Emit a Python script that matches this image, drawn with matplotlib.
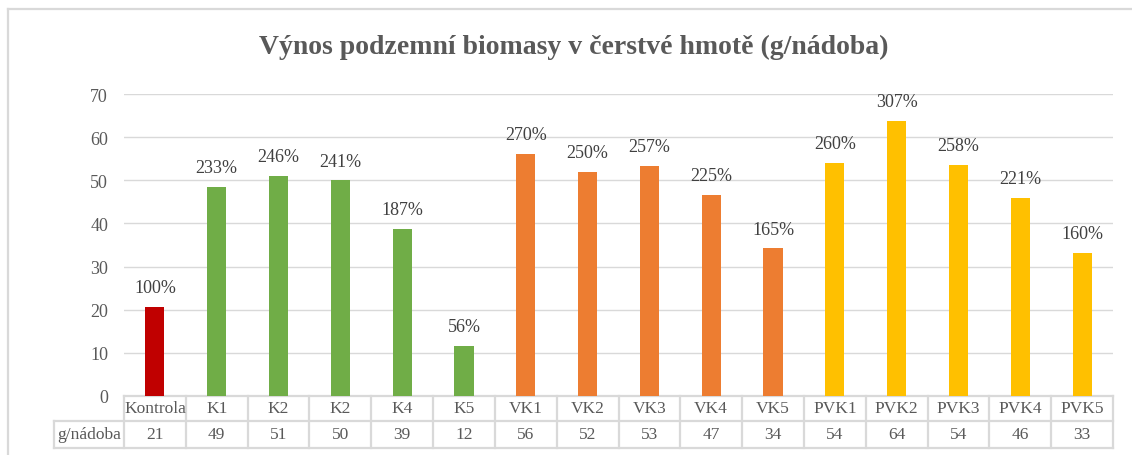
import matplotlib
matplotlib.use("Agg")
import matplotlib.pyplot as plt
from matplotlib.lines import Line2D

categories = ["Kontrola", "K1", "K2", "K2", "K4", "K5", "VK1", "VK2", "VK3", "VK4", "VK5",
              "PVK1", "PVK2", "PVK3", "PVK4", "PVK5"]
values = [20.7, 48.5, 51.0, 50.0, 38.8, 11.6, 56.1, 52.0, 53.4, 46.7, 34.2,
          54.1, 63.8, 53.6, 45.9, 33.2]
table_values = ["21", "49", "51", "50", "39", "12", "56", "52", "53", "47", "34",
                "54", "64", "54", "46", "33"]
percent_labels = ["100%", "233%", "246%", "241%", "187%", "56%", "270%", "250%", "257%",
                  "225%", "165%", "260%", "307%", "258%", "221%", "160%"]
row_label = "g/nádoba"
title = "Výnos podzemní biomasy v čerstvé hmotě (g/nádoba)"
yticks = [0, 10, 20, 30, 40, 50, 60, 70]

colors = ["#C00000"] + ["#70AD47"] * 5 + ["#ED7D31"] * 5 + ["#FFC000"] * 5

plt.rcParams['font.family'] = ['Liberation Serif', 'DejaVu Serif']

W, H = 1132, 456
fig = plt.figure(figsize=(W / 100, H / 100), dpi=100)

left_px, right_px, top_px, bottom_px = 124, 1113, 95, 397
ax = fig.add_axes([left_px / W, (H - bottom_px) / H,
                   (right_px - left_px) / W, (bottom_px - top_px) / H])

x = list(range(len(categories)))
ax.bar(x, values, width=0.31, color=colors, zorder=3)
ax.set_xlim(-0.5, len(categories) - 0.5)
ax.set_ylim(0, 70)
ax.set_yticks(yticks)
ax.set_yticklabels([str(t) for t in yticks], fontsize=13, color="#595959")
ax.tick_params(axis='y', length=0, pad=11.5)
ax.set_xticks([])
ax.grid(axis='y', color="#d9d9d9", linewidth=1.0, zorder=0)
for s in ax.spines.values():
    s.set_visible(False)

for xi, v, lab in zip(x, values, percent_labels):
    ax.annotate(lab, (xi, v), xytext=(0, 10.5), textcoords='offset points',
                ha='center', va='baseline', fontsize=13, color="#404040")

# data table below the axis
tr = ax.get_xaxis_transform()
ax_h_px = bottom_px - top_px
y_top = 0.0
y_mid = -(422 - bottom_px) / ax_h_px
y_bot = -(449 - bottom_px) / ax_h_px
col_w_px = (right_px - left_px) / len(categories)
x_hdr = -0.5 - (124 - 54) / col_w_px
lc = "#d9d9d9"
lw = 1.6
n = len(categories)
ax.add_line(Line2D([-0.5, n - 0.5], [y_top, y_top], transform=tr, color=lc, lw=lw, clip_on=False))
ax.add_line(Line2D([x_hdr, n - 0.5], [y_mid, y_mid], transform=tr, color=lc, lw=lw, clip_on=False))
ax.add_line(Line2D([x_hdr, n - 0.5], [y_bot, y_bot], transform=tr, color=lc, lw=lw, clip_on=False))
ax.add_line(Line2D([x_hdr, x_hdr], [y_mid, y_bot], transform=tr, color=lc, lw=lw, clip_on=False))
for k in range(n + 1):
    xv = k - 0.5
    ax.add_line(Line2D([xv, xv], [y_top, y_bot], transform=tr, color=lc, lw=lw, clip_on=False))
for xi, c, tv in zip(x, categories, table_values):
    ax.text(xi, (y_top + y_mid) / 2, c, transform=tr, ha='center', va='center',
            fontsize=12.5, color="#595959")
    ax.text(xi, (y_mid + y_bot) / 2, tv, transform=tr, ha='center', va='center',
            fontsize=12.5, color="#595959")
ax.text((x_hdr - 0.5) / 2, (y_mid + y_bot) / 2, row_label, transform=tr, ha='center',
        va='center', fontsize=12.5, color="#595959")

# title
fig.text(574 / W, 1 - 47 / H, title, ha='center', va='center', fontsize=20,
         fontweight='bold', color="#595959")

# chart border (top and left)
fig.add_artist(Line2D([8 / W, 1.0], [1 - 9.5 / H, 1 - 9.5 / H], transform=fig.transFigure,
                      color=lc, lw=1.6))
fig.add_artist(Line2D([8 / W, 8 / W], [0, 1 - 9.5 / H], transform=fig.transFigure,
                      color=lc, lw=1.6))

fig.savefig("out.png", dpi=100)
